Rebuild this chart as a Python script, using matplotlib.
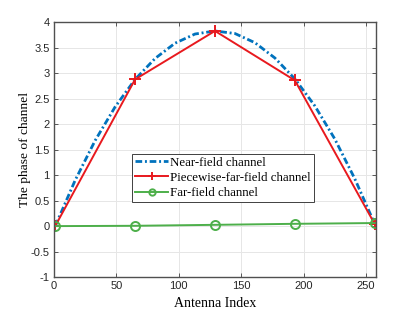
import matplotlib
matplotlib.use("Agg")
import matplotlib.pyplot as plt
import numpy as np

# Data
near_idx = [1, 17, 33, 49, 65, 81, 97, 113, 129, 145, 161, 177, 193, 209, 225, 241, 257]
near_phase = [0.0, 0.90, 1.68, 2.34, 2.88, 3.29, 3.59, 3.77, 3.83, 3.78, 3.60, 3.30, 2.89, 2.36, 1.71, 0.93, 0.04]
anchor_idx = [1, 65, 129, 193, 257]
piecewise_phase = [0.0, 2.88, 3.83, 2.86, 0.04]
far_phase = [0.0, 0.006, 0.025, 0.045, 0.06]
xticks = [0, 50, 100, 150, 200, 250]
yticks = [-1, -0.5, 0, 0.5, 1, 1.5, 2, 2.5, 3, 3.5, 4]

fig = plt.figure(figsize=(4.15, 3.12), dpi=100)
ax = fig.add_axes([0.130, 0.112, 0.776, 0.8165])

ax.plot(near_idx, near_phase, linestyle='-.', dashes=(2.4, 1.0, 0.7, 1.0), color='#0072BD', linewidth=2.0,
        label='Near-field channel')
ax.plot(anchor_idx, piecewise_phase, linestyle='-', color='#E8191E', linewidth=1.4,
        marker='+', markersize=8, markeredgewidth=1.4, label='Piecewise-far-field channel')
ax.plot(anchor_idx, far_phase, linestyle='-', color='#4DAF4A', linewidth=1.4,
        marker='o', markersize=6.5, markerfacecolor='none', markeredgewidth=1.4,
        label='Far-field channel')

ax.set_xlim(0, 258)
ax.set_ylim(-1, 4)
ax.set_xticks(xticks)
ax.set_yticks(yticks)
ax.set_yticklabels([('%g' % v) for v in yticks])
ax.grid(True, color='#E6E6E6', linewidth=0.7)
ax.set_axisbelow(True)
ax.tick_params(direction='in', top=True, right=True, length=3, width=0.6,
               color='#404040', labelsize=8, labelcolor='#262626', pad=3)
for lab in ax.get_xticklabels() + ax.get_yticklabels():
    lab.set_fontfamily('Liberation Sans')
for s in ax.spines.values():
    s.set_color('#505050')
    s.set_linewidth(1.0)

ax.set_xlabel('Antenna Index', fontfamily='Liberation Serif', fontsize=10, labelpad=4)
ax.set_ylabel('The phase of channel', fontfamily='Liberation Serif', fontsize=9.7, labelpad=0)

leg = ax.legend(loc='upper left', bbox_to_anchor=(0.243, 0.483), prop={'family': 'Liberation Serif', 'size': 9.3},
                frameon=True, fancybox=False, edgecolor='#404040', framealpha=1,
                borderpad=0.2, labelspacing=0.25, handlelength=2.6, handletextpad=0.15,
                borderaxespad=0, markerscale=0.7)
leg.get_frame().set_linewidth(0.7)

fig.savefig('out.png', dpi=100)
